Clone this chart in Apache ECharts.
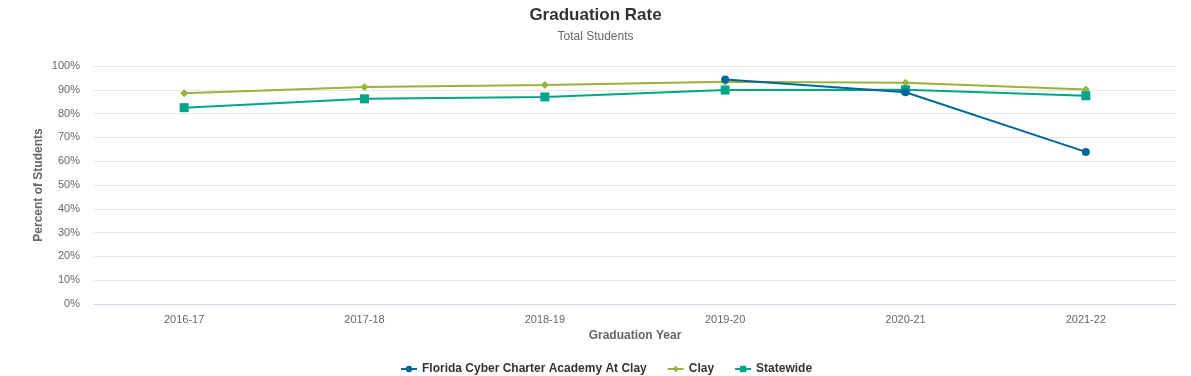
<!DOCTYPE html>
<html>
<head>
<meta charset="utf-8">
<script src="https://cdn.jsdelivr.net/npm/echarts@6/dist/echarts.min.js"></script>
<style>
  html, body { margin: 0; padding: 0; background: #fff; }
  #chart { width: 1191px; height: 376px; }
</style>
</head>
<body>
<div id="chart"></div>
<script>
const years = ['2016-17', '2017-18', '2018-19', '2019-20', '2020-21', '2021-22'];
const cyberCharter = [null, null, null, 94.3, 89.0, 63.9];
const clay = [88.5, 91.2, 92.0, 93.4, 93.0, 90.1];
const statewide = [82.5, 86.2, 87.0, 89.9, 90.0, 87.5];
const yTicks = [0, 10, 20, 30, 40, 50, 60, 70, 80, 90, 100];

const font = 'Liberation Sans, Arial, sans-serif';

const chart = echarts.init(document.getElementById('chart'));
chart.setOption({
  animation: false,
  textStyle: { fontFamily: font },
  title: {
    text: 'Graduation Rate',
    subtext: 'Total Students',
    left: 'center',
    top: 2,
    itemGap: 7,
    textStyle: { fontSize: 17, fontWeight: 'bold', color: '#333', fontFamily: font },
    subtextStyle: { fontSize: 12, color: '#666', fontFamily: font }
  },
  legend: {
    top: 358,
    left: 395,
    itemWidth: 16,
    itemHeight: 8,
    itemGap: 20,
    textStyle: { fontSize: 12, fontWeight: 'bold', color: '#333', fontFamily: font },
    data: ['Florida Cyber Charter Academy At Clay', 'Clay', 'Statewide']
  },
  grid: { left: 94, right: 15, top: 66, bottom: 72 },
  xAxis: {
    type: 'category',
    data: years,
    boundaryGap: true,
    name: 'Graduation Year',
    nameLocation: 'middle',
    nameGap: 26,
    nameMoveOverlap: false,
    nameTextStyle: { fontSize: 12, fontWeight: 'bold', color: '#666', fontFamily: font },
    axisLine: { lineStyle: { color: '#ccd6eb' } },
    axisTick: { show: false },
    axisLabel: { fontSize: 11, color: '#666', margin: 10 }
  },
  yAxis: {
    type: 'value',
    min: yTicks[0],
    max: yTicks[yTicks.length - 1],
    interval: 10,
    name: 'Percent of Students',
    nameLocation: 'middle',
    nameGap: 49,
    nameMoveOverlap: false,
    nameTextStyle: { fontSize: 12, fontWeight: 'bold', color: '#666', fontFamily: font },
    axisLine: { show: false },
    axisTick: { show: false },
    axisLabel: { fontSize: 11, color: '#666', formatter: '{value}%', margin: 14 },
    splitLine: { lineStyle: { color: '#e6e6e6' } }
  },
  series: [
    {
      name: 'Florida Cyber Charter Academy At Clay',
      type: 'line',
      data: cyberCharter,
      symbol: 'circle',
      symbolSize: 8,
      color: '#00679a',
      lineStyle: { width: 2 },
      z: 3
    },
    {
      name: 'Clay',
      type: 'line',
      data: clay,
      symbol: 'diamond',
      symbolSize: 8,
      color: '#98b43c',
      lineStyle: { width: 2 },
      z: 2
    },
    {
      name: 'Statewide',
      type: 'line',
      data: statewide,
      symbol: 'rect',
      symbolSize: 9,
      color: '#00a58a',
      lineStyle: { width: 2 },
      z: 2
    }
  ]
});
</script>
</body>
</html>
